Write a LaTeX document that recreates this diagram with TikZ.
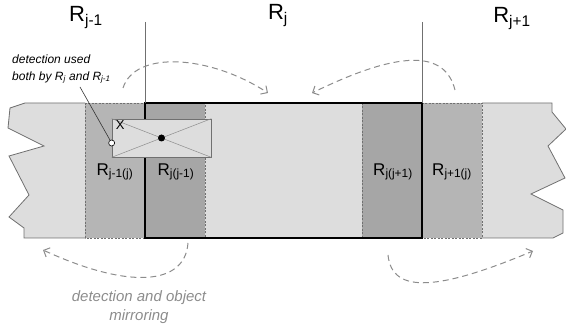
\documentclass[tikz,border=0pt]{standalone}
\usepackage{fontspec}
\setmainfont{Liberation Sans}
\usetikzlibrary{arrows.meta}
\definecolor{striplight}{HTML}{DDDDDD}
\definecolor{bandmid}{HTML}{B5B5B5}
\definecolor{banddark}{HTML}{A6A6A6}
\definecolor{edgegray}{HTML}{707070}
\definecolor{mirrorgray}{HTML}{8C8C8C}

\begin{document}
\begin{tikzpicture}[
        x=1pt, y=-1pt,
        region/.style={font=\fontsize{22}{24}\selectfont},
        bandlabel/.style={font=\fontsize{17}{19}\selectfont},
        band/.style={draw=edgegray, line width=0.6pt, dash pattern=on 2pt off 1.5pt},
        stripedge/.style={draw=edgegray, line width=0.8pt},
        window/.style={draw=black, line width=1.8pt},
        mirror/.style={draw=mirrorgray, line width=1pt, dash pattern=on 6pt off 4pt, -{Straight Barb[length=5pt,width=10pt]}},
        detbox/.style={rectangle, draw=edgegray, fill=striplight, line width=0.7pt, minimum width=99pt, minimum height=38pt, inner sep=0pt}
    ]
    \useasboundingbox (0,0) rectangle (566,328);

    % Strip
    \fill[striplight] (25,103) -- (552,103) -- (552,112) -- (566,129) -- (548,146) -- (565,178) -- (531,194) -- (563,210) -- (563,233) -- (553,238)
        -- (24,238) -- (24,228) -- (9,217) -- (29,195) -- (9,156) -- (44,146) -- (8,128) -- (10,108) -- cycle;
    \draw[stripedge] (85,103) -- (25,103) -- (10,108) -- (8,128) -- (44,146) -- (9,156) -- (29,195) -- (9,217) -- (24,228) -- (24,238) -- (85,238);
    \draw[stripedge] (482,103) -- (552,103) -- (552,112) -- (566,129) -- (548,146) -- (565,178) -- (531,194) -- (563,210) -- (563,233) -- (553,238) -- (482,238);

    % Overlap bands
    \filldraw[band, fill=bandmid] (85,103) rectangle (145,238);
    \filldraw[band, fill=banddark] (145,103) rectangle (205,238);
    \filldraw[band, fill=banddark] (362,103) rectangle (422,238);
    \filldraw[band, fill=bandmid] (422,103) rectangle (482,238);

    % Region R_j
    \draw[window] (145,103) rectangle (422,238);
    \draw[edgegray, line width=0.8pt] (145,22) -- (145,103);
    \draw[edgegray, line width=0.8pt] (422,22) -- (422,103);

    % Labels
    \node[region] (rjm) at (86,18) {R\textsubscript{j-1}};
    \node[region] (rj) at (278,16) {R\textsubscript{j}};
    \node[region] (rjp) at (512,19) {R\textsubscript{j+1}};
    \node[bandlabel] (bjmj) at (115,172) {R\textsubscript{j-1(j)}};
    \node[bandlabel] (bjjm) at (176,172) {R\textsubscript{j(j-1)}};
    \node[bandlabel] (bjjp) at (393,172) {R\textsubscript{j(j+1)}};
    \node[bandlabel] (bjpj) at (452,172) {R\textsubscript{j+1(j)}};

    % Detection
    \node[detbox] (det) at (161.5,138) {};
    \draw[edgegray!80, line width=0.5pt] (det.north west) -- (det.south east);
    \draw[edgegray!80, line width=0.5pt] (det.south west) -- (det.north east);
    \node[circle, fill=black, inner sep=0pt, minimum size=7pt] (ctr) at (det.center) {};
    \node[font=\fontsize{13}{13}\selectfont, anchor=north west, inner sep=0pt] (xlab) at ([xshift=4pt,yshift=-2pt]det.north west) {X};
    \node[circle, draw=black, fill=white, line width=0.6pt, inner sep=0pt, minimum size=6pt] (hit) at ([yshift=-5pt]det.west) {};

    % Callout
    \node[font=\itshape\fontsize{12}{17}\selectfont, align=left, anchor=west, inner sep=0pt] (note) at (12,69)
        {detection used\\both by \textit{R}\textsubscript{j} and \textit{R}\textsubscript{j-1}};
    \coordinate (notetip) at (80,87);
    \draw[black!80, line width=0.6pt] (notetip) -- (hit);

    % Mirroring arrows
    \coordinate (m1s) at (123,88);  \coordinate (m1e) at (268,93);
    \coordinate (m2s) at (455,90);  \coordinate (m2e) at (312,93);
    \coordinate (m3s) at (188,243); \coordinate (m3e) at (43,250);
    \coordinate (m4s) at (388,255); \coordinate (m4e) at (533,251);
    \draw[mirror] (m1s) .. controls (135,50) and (210,55) .. (m1e);
    \draw[mirror] (m2s) .. controls (445,50) and (400,50) .. (m2e);
    \draw[mirror] (m3s) .. controls (185,285) and (130,290) .. (m3e);
    \draw[mirror] (m4s) .. controls (392,295) and (440,290) .. (m4e);

    \node[font=\itshape\fontsize{15}{19}\selectfont, text=mirrorgray, align=center] (caption) at (139,307)
        {detection and object\\mirroring};
\end{tikzpicture}
\end{document}
